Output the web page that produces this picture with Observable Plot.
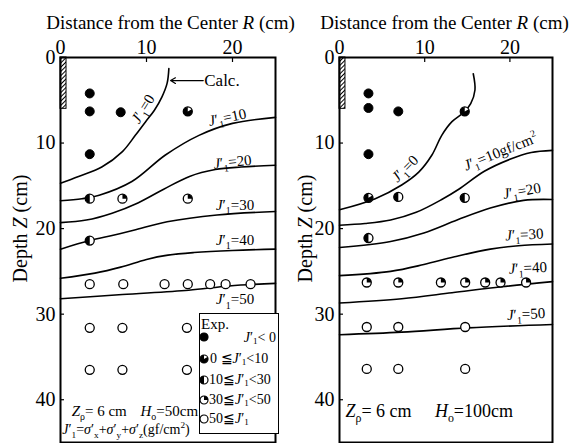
<!DOCTYPE html>
<html><head><meta charset="utf-8">
<script src="https://cdn.jsdelivr.net/npm/d3@7"></script>
<script src="https://cdn.jsdelivr.net/npm/@observablehq/plot@0.6"></script>
<style>
body{margin:0;background:#fff;}
#wrap{position:relative;width:588px;height:443px;overflow:hidden;font-family:'Liberation Serif','DejaVu Serif',serif;color:#000;}
#wrap > svg{position:absolute;top:0;}
#legend{position:absolute;left:199px;top:313px;width:80px;height:121px;border:1.3px solid #000;background:#fff;font-size:14px;box-sizing:border-box;}
#legend .row{position:absolute;left:0;white-space:nowrap;line-height:14px;}
#legend sub{font-size:0.65em;vertical-align:-0.25em;line-height:0;}
#legend svg{position:absolute;}
</style></head><body><div id="wrap"></div>
<script>
// ---------- data ----------
const xTicks = [0, 10, 20];
const yTicks = [0, 10, 20, 30, 40];
const levels = [0, 10, 20, 30, 40, 50];
const pileWidth = 0.7, pileDepth = 6;

// Left panel (H0 = 50 cm): contour lines [R, Z]
const L_J0  = [[12.6,1.3],[12.4,3.0],[11.8,4.6],[10.9,6.2],[9.9,7.5],[8.7,9.1],[7.2,11.0],[4.8,12.8],[2.1,13.9],[0,14.7]];
const L_J10 = [[0,16.75],[2.5,16.5],[4.5,16.1],[8.3,14.5],[12.2,11.4],[16.1,9.1],[20.0,7.7],[25,7.0]];
const L_J20 = [[0,19.3],[3,19.0],[6,18.2],[9,17.0],[12,15.4],[15,13.9],[18,13.1],[21,12.8],[25,12.6]];
const L_J30 = [[0,22.4],[3.4,21.4],[6,20.8],[8.5,20.2],[12.4,19.2],[18.2,18.4],[25,18.0]];
const L_J40 = [[0,25.8],[4,25.2],[7,24.5],[10,23.6],[12.5,23.1],[15.5,22.8],[20,22.55],[25,22.4]];
const L_J50 = [[0,28.2],[7.2,27.7],[14.9,27.2],[19.6,26.7],[25,26.4]];

// Right panel (H0 = 100 cm)
const R_J0  = [[15.7,1.9],[15.9,3.8],[15.4,5.4],[14.6,6.4],[13.2,7.5],[12.0,9.1],[10.85,11.4],[9.3,13.4],[7.3,14.9],[4.2,16.5],[0,17.8]];
const R_J10 = [[0,19.6],[3,19.4],[6,19.0],[9,18.1],[12,16.6],[14,15.4],[17,13.3],[20,11.9],[22.5,11.1],[25,10.85]];
const R_J20 = [[0,22.2],[6,21.5],[9.9,20.5],[13.8,19.0],[17.7,17.6],[21.6,16.7],[25,16.6]];
const R_J30 = [[0,25.5],[6,25.0],[9.9,24.2],[13.5,23.3],[17.7,22.4],[21,22.0],[25,21.8]];
const R_J40 = [[0,28.7],[7.3,28.2],[13.2,27.5],[19.0,26.8],[25,26.2]];
const R_J50 = [[0,32.4],[7.3,32.1],[15.1,31.6],[25,31.2]];

// Experimental points: category 0: J<0, 1: 0-10, 2: 10-30, 3: 30-50, 4: >=50
const leftR   = [3.4,3.4,7.0,14.8,3.4, 3.4,7.2,14.8, 3.4, 3.4,7.3,12.1,14.8,17.4,19.2,22.1, 3.4,7.2,14.7, 3.4,7.2,14.7];
const leftZ   = [4.2,6.3,6.4,6.3,11.3, 16.5,16.5,16.5, 21.4, 26.5,26.5,26.5,26.5,26.5,26.5,26.5, 31.6,31.6,31.6, 36.5,36.5,36.5];
const leftCat = [0,0,0,1,0, 2,3,3, 2, 4,4,4,4,4,4,4, 4,4,4, 4,4,4];

const rightR   = [3.4,3.4,6.9,14.7,3.4, 3.4,6.9,14.7, 3.4, 3.2,6.9,11.9,14.75,17.1,18.9,21.9, 3.2,6.9,14.75, 3.2,6.9,14.75];
const rightZ   = [4.2,5.9,6.3,6.3,11.3, 16.4,16.3,16.4, 21.1, 26.3,26.3,26.3,26.3,26.3,26.3,26.3, 31.5,31.5,31.5, 36.4,36.4,36.4];
const rightCat = [0,0,0,1,0, 1,2,2, 2, 3,3,3,3,3,3,3, 4,4,4, 4,4,4];

// Curve labels
const leftLabelText = ["*J*′_1=0","*J*′_1=10","*J*′_1=20","*J*′_1=30","*J*′_1=40","*J*′_1=50"];
const leftLabelR    = [9.6, 19.4, 20.0, 20.3, 20.3, 20.3];
const leftLabelZ    = [6.0, 7.0, 12.2, 17.25, 21.3, 28.3];
const leftLabelRot  = [-58, -12, -6, 0, 0, 0];

const rightLabelText = ["*J*′_1=0","*J*′_1=10gf/cm^2","*J*′_1=20","*J*′_1=30","*J*′_1=40","*J*′_1=50"];
const rightLabelR    = [7.7, 18.9, 21.4, 21.7, 22.1, 21.9];
const rightLabelZ    = [13.0, 11.0, 15.6, 20.7, 24.6, 30.0];
const rightLabelRot  = [-45, -22, -10, -3, -3, -3];

// Notes
const leftNotesText = ["*Z*_ρ= 6 cm", "*H*_o=50cm", "*J*′_1=*σ*′_x+*σ*′_y+*σ*′_z(gf/cm^2)"];
const leftNotesR    = [1.3, 9.3, 0.2];
const leftNotesZ    = [41.3, 41.3, 43.5];
const leftNotesSize = [15, 15, 14];
const rightNotesText = ["*Z*_ρ= 6 cm", "*H*_o=100cm"];
const rightNotesR    = [0.7, 11.2];
const rightNotesZ    = [41.3, 41.3];
const rightNotesSize = [18, 18];

const calcNote = {text: "Calc.", r1: 16.6, r2: 12.8, z: 2.7};

const titleText = "Distance from the Center *R* (cm)";
const depthText = "Depth *Z* (cm)";
const legendTitle = "Exp.";
const legendLabels = [
  "<i>J</i>′<sub>1</sub>&lt; 0",
  "0 ≦<i>J</i>′<sub>1</sub>&lt;10",
  "10≦<i>J</i>′<sub>1</sub>&lt;30",
  "30≦<i>J</i>′<sub>1</sub>&lt;50",
  "50≦<i>J</i>′<sub>1</sub>"
];

// ---------- glyphs ----------
const deg = Math.PI / 180;
const wedgeArcs = {1: [-30, 270], 2: [90, 270], 3: [-90, 0]};
function wedgeSymbol(cat) {
  const [a0, a1] = wedgeArcs[cat];
  return {draw(ctx, size) {
    const r = Math.sqrt(size / Math.PI);
    ctx.moveTo(0, 0);
    ctx.arc(0, 0, r, a0 * deg, a1 * deg);
    ctx.closePath();
  }};
}

const ns = "http://www.w3.org/2000/svg";
function richify(root) {
  root.querySelectorAll("text").forEach(t => {
    const targets = t.querySelector("tspan") ? [...t.querySelectorAll("tspan")] : [t];
    targets.forEach(n => {
      const s = n.textContent;
      if (!/[*_^]/.test(s)) return;
      const fs = parseFloat(getComputedStyle(n).fontSize) || 16;
      while (n.firstChild) n.removeChild(n.firstChild);
      let italic = false, shift = 0, i = 0;
      const add = (txt, opts = {}) => {
        const sp = document.createElementNS(ns, "tspan");
        sp.textContent = txt;
        if (italic) sp.setAttribute("font-style", "italic");
        if (opts.size) sp.setAttribute("font-size", opts.size);
        if (opts.dy) sp.setAttribute("dy", opts.dy);
        n.appendChild(sp);
      };
      while (i < s.length) {
        const c = s[i];
        if (c === "*") { italic = !italic; i++; continue; }
        if (c === "_" || c === "^") {
          const target = c === "_" ? 0.28 * fs : -0.42 * fs;
          add(s[i + 1], {size: 0.66 * fs, dy: target - shift});
          shift = target; i += 2; continue;
        }
        let j = i; while (j < s.length && !"*_^".includes(s[j])) j++;
        add(s.slice(i, j), shift ? {dy: -shift} : {});
        shift = 0; i = j;
      }
    });
  });
}

function panel(o) {
  const H = 443, mt = 57, mb = 1;
  const plotW = o.width - o.ml - o.mr, plotH = H - mt - mb;
  const contour = o.curves.flatMap((pts, k) => pts.map(([r, z]) => ({r, z, level: levels[k]})));
  const pts = o.R.map((r, i) => ({r, z: o.Z[i], c: o.C[i]}));
  const labels = o.labText.map((t, i) => ({t, r: o.labR[i], z: o.labZ[i], rot: o.labRot[i]}));
  const notes = o.noteText.map((t, i) => ({t, r: o.noteR[i], z: o.noteZ[i], s: o.noteSize[i]}));
  const marks = [
    Plot.rect([{w: pileWidth, zp: pileDepth}], {x1: 0, x2: d => d.w, y1: 0, y2: d => d.zp, fill: `url(#${o.id})`, stroke: "black", strokeWidth: 1}),
    Plot.line(contour, {x: "r", y: "z", z: "level", curve: "catmull-rom", stroke: "black", strokeWidth: 1.6}),
    Plot.dot(pts.filter(d => d.c === 0), {x: "r", y: "z", r: 4.5, fill: "black", stroke: "black", strokeWidth: 1}),
    Plot.dot(pts.filter(d => d.c > 0), {x: "r", y: "z", r: 4.5, fill: "white", stroke: "black", strokeWidth: 1.3}),
    ...[1, 2, 3].map(c => Plot.dot(pts.filter(d => d.c === c), {x: "r", y: "z", r: 4.5, fill: "black", stroke: "none", symbol: wedgeSymbol(c)})),
    Plot.text(labels, {x: "r", y: "z", text: "t", rotate: "rot", fontSize: 15}),
    ...notes.map(n => Plot.text([n], {x: "r", y: "z", text: "t", textAnchor: "start", fontSize: n.s})),
    Plot.ruleX(xTicks, {insetBottom: plotH - 5, stroke: "black", strokeWidth: 1.2}),
    Plot.ruleY(yTicks, {insetRight: plotW - 4, stroke: "black", strokeWidth: 1.2}),
    Plot.frame({stroke: "black", strokeWidth: 2}),
    Plot.axisX(xTicks, {anchor: "top", tickSize: 0, tickPadding: 4, fontSize: 20, label: null}),
    Plot.axisY(yTicks, {anchor: "left", tickSize: 0, tickPadding: 5, fontSize: 20, label: null}),
    Plot.text([titleText], {text: d => d, frameAnchor: "top", textAnchor: "middle", dy: -42, dx: o.titleDx, fontSize: 19}),
    Plot.text([depthText], {text: d => d, frameAnchor: "left", textAnchor: "middle", rotate: -90, dx: o.depthDx, dy: -21.5, fontSize: 20, letterSpacing: 0.8})
  ];
  if (o.calc) {
    marks.push(
      Plot.arrow([o.calc], {x1: "r1", x2: "r2", y1: "z", y2: "z", stroke: "black", strokeWidth: 1.2, headLength: 7, bend: 0}),
      Plot.text([o.calc], {x: "r1", y: "z", text: "text", textAnchor: "start", dx: 1, fontSize: 17})
    );
  }
  const svg = Plot.plot({
    width: o.width, height: H,
    marginTop: mt, marginBottom: mb, marginLeft: o.ml, marginRight: o.mr,
    x: {domain: [0, 25]},
    y: {domain: [0, 45], reverse: true},
    style: {fontFamily: "'Liberation Serif','DejaVu Serif',serif", fontSize: "16px", background: "transparent", overflow: "visible", color: "black"},
    marks
  });
  const defs = document.createElementNS(ns, "defs");
  defs.innerHTML = `<pattern id="${o.id}" width="3" height="3" patternUnits="userSpaceOnUse" patternTransform="rotate(45)"><rect width="3" height="3" fill="white"/><line x1="0.5" y1="0" x2="0.5" y2="3" stroke="black" stroke-width="1"/></pattern>`;
  svg.insertBefore(defs, svg.firstChild);
  svg.style.left = o.left + "px";
  return svg;
}

const wrap = document.getElementById("wrap");
const left = panel({id: "hatchL", left: 0, width: 290, ml: 60, mr: 15,
  curves: [L_J0, L_J10, L_J20, L_J30, L_J40, L_J50], R: leftR, Z: leftZ, C: leftCat,
  labText: leftLabelText, labR: leftLabelR, labZ: leftLabelZ, labRot: leftLabelRot,
  noteText: leftNotesText, noteR: leftNotesR, noteZ: leftNotesZ, noteSize: leftNotesSize,
  calc: calcNote, titleDx: 2.5, depthDx: -40});
const right = panel({id: "hatchR", left: 290, width: 298, ml: 49, mr: 36,
  curves: [R_J0, R_J10, R_J20, R_J30, R_J40, R_J50], R: rightR, Z: rightZ, C: rightCat,
  labText: rightLabelText, labR: rightLabelR, labZ: rightLabelZ, labRot: rightLabelRot,
  noteText: rightNotesText, noteR: rightNotesR, noteZ: rightNotesZ, noteSize: rightNotesSize,
  calc: null, titleDx: -1.5, depthDx: -34});
wrap.appendChild(left);
wrap.appendChild(right);
richify(left);
richify(right);

// ---------- legend ----------
function glyphSVG(cat, r) {
  const s = 2 * r + 2, c = r + 1;
  let inner = `<circle cx="${c}" cy="${c}" r="${r}" fill="${cat === 0 ? "black" : "white"}" stroke="black" stroke-width="1.2"/>`;
  if (wedgeArcs[cat]) {
    const [a0, a1] = wedgeArcs[cat].map(a => a * deg);
    const large = (a1 - a0) > Math.PI ? 1 : 0;
    const p = `M${c},${c}L${c + r * Math.cos(a0)},${c + r * Math.sin(a0)}A${r},${r} 0 ${large} 1 ${c + r * Math.cos(a1)},${c + r * Math.sin(a1)}Z`;
    inner += `<path d="${p}" fill="black"/>`;
  }
  return `<svg width="${s}" height="${s}" viewBox="0 0 ${s} ${s}">${inner}</svg>`;
}
const legend = document.createElement("div");
legend.id = "legend";
let html = `<div class="row" style="top:3px;left:1px;font-size:15px;">${legendTitle}</div>`;
const rowCenters = [23, 45, 66, 86, 105];
legendLabels.forEach((lab, i) => {
  const top = rowCenters[i];
  html += `<div style="position:absolute;left:-1px;top:${top - 5}px;width:10px;height:10px;">${glyphSVG(i, 4)}</div>`;
  if (i === 0) html += `<div class="row" style="top:${top - 6}px;left:auto;right:2px;">${lab}</div>`;
  else html += `<div class="row" style="top:${top - 7}px;left:${i === 1 ? 10 : 9}px;">${lab}</div>`;
});
legend.innerHTML = html;
wrap.appendChild(legend);
</script>
</body></html>
